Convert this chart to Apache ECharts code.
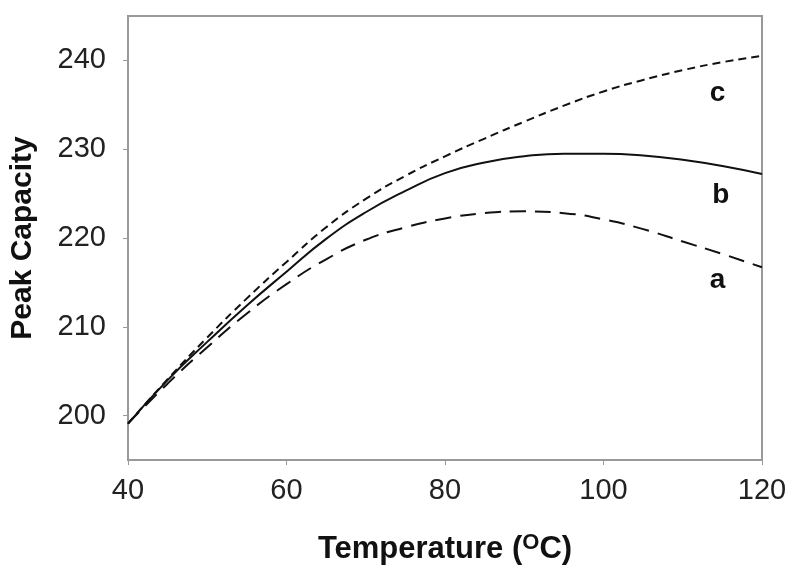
<!DOCTYPE html>
<html>
<head>
<meta charset="utf-8">
<script src="https://cdn.jsdelivr.net/npm/echarts@6/dist/echarts.min.js"></script>
<style>html,body{margin:0;padding:0;background:#fff;}#c{width:793px;height:578px;}</style>
</head>
<body>
<div id="c"></div>
<script>
var temps = [40,45,50,55,60,65,70,75,80,85,90,95,100,105,110,115,120];
var seriesA = [199.1,203.6,207.7,211.5,214.8,217.6,219.8,221.2,222.2,222.8,223.0,222.8,222.1,221.0,219.6,218.2,216.7];
var seriesB = [199.1,204.0,208.3,212.4,216.2,219.9,222.9,225.3,227.3,228.5,229.2,229.5,229.5,229.3,228.8,228.1,227.2];
var seriesC = [199.1,204.1,208.8,213.2,217.3,221.2,224.4,227.0,229.2,231.2,233.1,234.9,236.5,237.8,238.9,239.8,240.5];
var xTicks = [40,60,80,100,120];
var yTicks = [200,210,220,230,240];
var curveLabels = [
  {name:'a', coord:[114.4, 215.2]},
  {name:'b', coord:[114.8, 224.8]},
  {name:'c', coord:[114.4, 236.3]}
];

function pairs(v){ return temps.map(function(t,i){ return [t, v[i]]; }); }
var FONT = '"Liberation Sans", Arial, sans-serif';
function lbl(i){
  return {
    symbol:'circle', symbolSize:0.01,
    label:{show:true, formatter:curveLabels[i].name, fontFamily:FONT, fontWeight:'bold', fontSize:28, color:'#111', position:'inside'},
    data:[{coord:curveLabels[i].coord}]
  };
}

var chart = echarts.init(document.getElementById('c'), null, {renderer:'canvas'});
chart.setOption({
  animation:false,
  backgroundColor:'#fff',
  grid:{left:128, right:31, top:16, bottom:118, show:true, borderColor:'#999', borderWidth:2,
        containLabel:false, outerBoundsMode:'none'},
  xAxis:{
    type:'value', min:40, max:120, interval:20,
    axisLine:{show:true, lineStyle:{color:'#999', width:2}},
    axisTick:{show:true, length:5, customValues:xTicks, lineStyle:{color:'#999', width:1}},
    splitLine:{show:false},
    axisLabel:{fontFamily:FONT, fontSize:29, color:'#222', margin:16, customValues:xTicks},
    name:'{t|Temperature (}{s|O}{t|C)}',
    nameLocation:'middle', nameGap:72,
    nameTextStyle:{rich:{
      t:{fontFamily:FONT, fontWeight:'bold', fontSize:31, color:'#111'},
      s:{fontFamily:FONT, fontWeight:'bold', fontSize:22, color:'#111', verticalAlign:'top', padding:[0,0,13,0]}
    }}
  },
  yAxis:{
    type:'value', min:195, max:245, interval:5,
    axisLine:{show:true, lineStyle:{color:'#999', width:2}},
    axisTick:{show:true, length:5, customValues:yTicks, lineStyle:{color:'#999', width:1}},
    splitLine:{show:false},
    axisLabel:{fontFamily:FONT, fontSize:29, color:'#222', margin:22, customValues:yTicks},
    name:'Peak Capacity', nameLocation:'middle', nameGap:90,
    nameTextStyle:{fontFamily:FONT, fontWeight:'bold', fontSize:30, color:'#111'}
  },
  series:[
    {name:'a', type:'line', data:pairs(seriesA), showSymbol:false, smooth:true,
     lineStyle:{color:'#111', width:2, type:[16,9]}, markPoint:lbl(0)},
    {name:'b', type:'line', data:pairs(seriesB), showSymbol:false, smooth:true,
     lineStyle:{color:'#111', width:2}, markPoint:lbl(1)},
    {name:'c', type:'line', data:pairs(seriesC), showSymbol:false, smooth:true,
     lineStyle:{color:'#111', width:2, type:[8,5]}, markPoint:lbl(2)}
  ]
});
</script>
</body>
</html>
